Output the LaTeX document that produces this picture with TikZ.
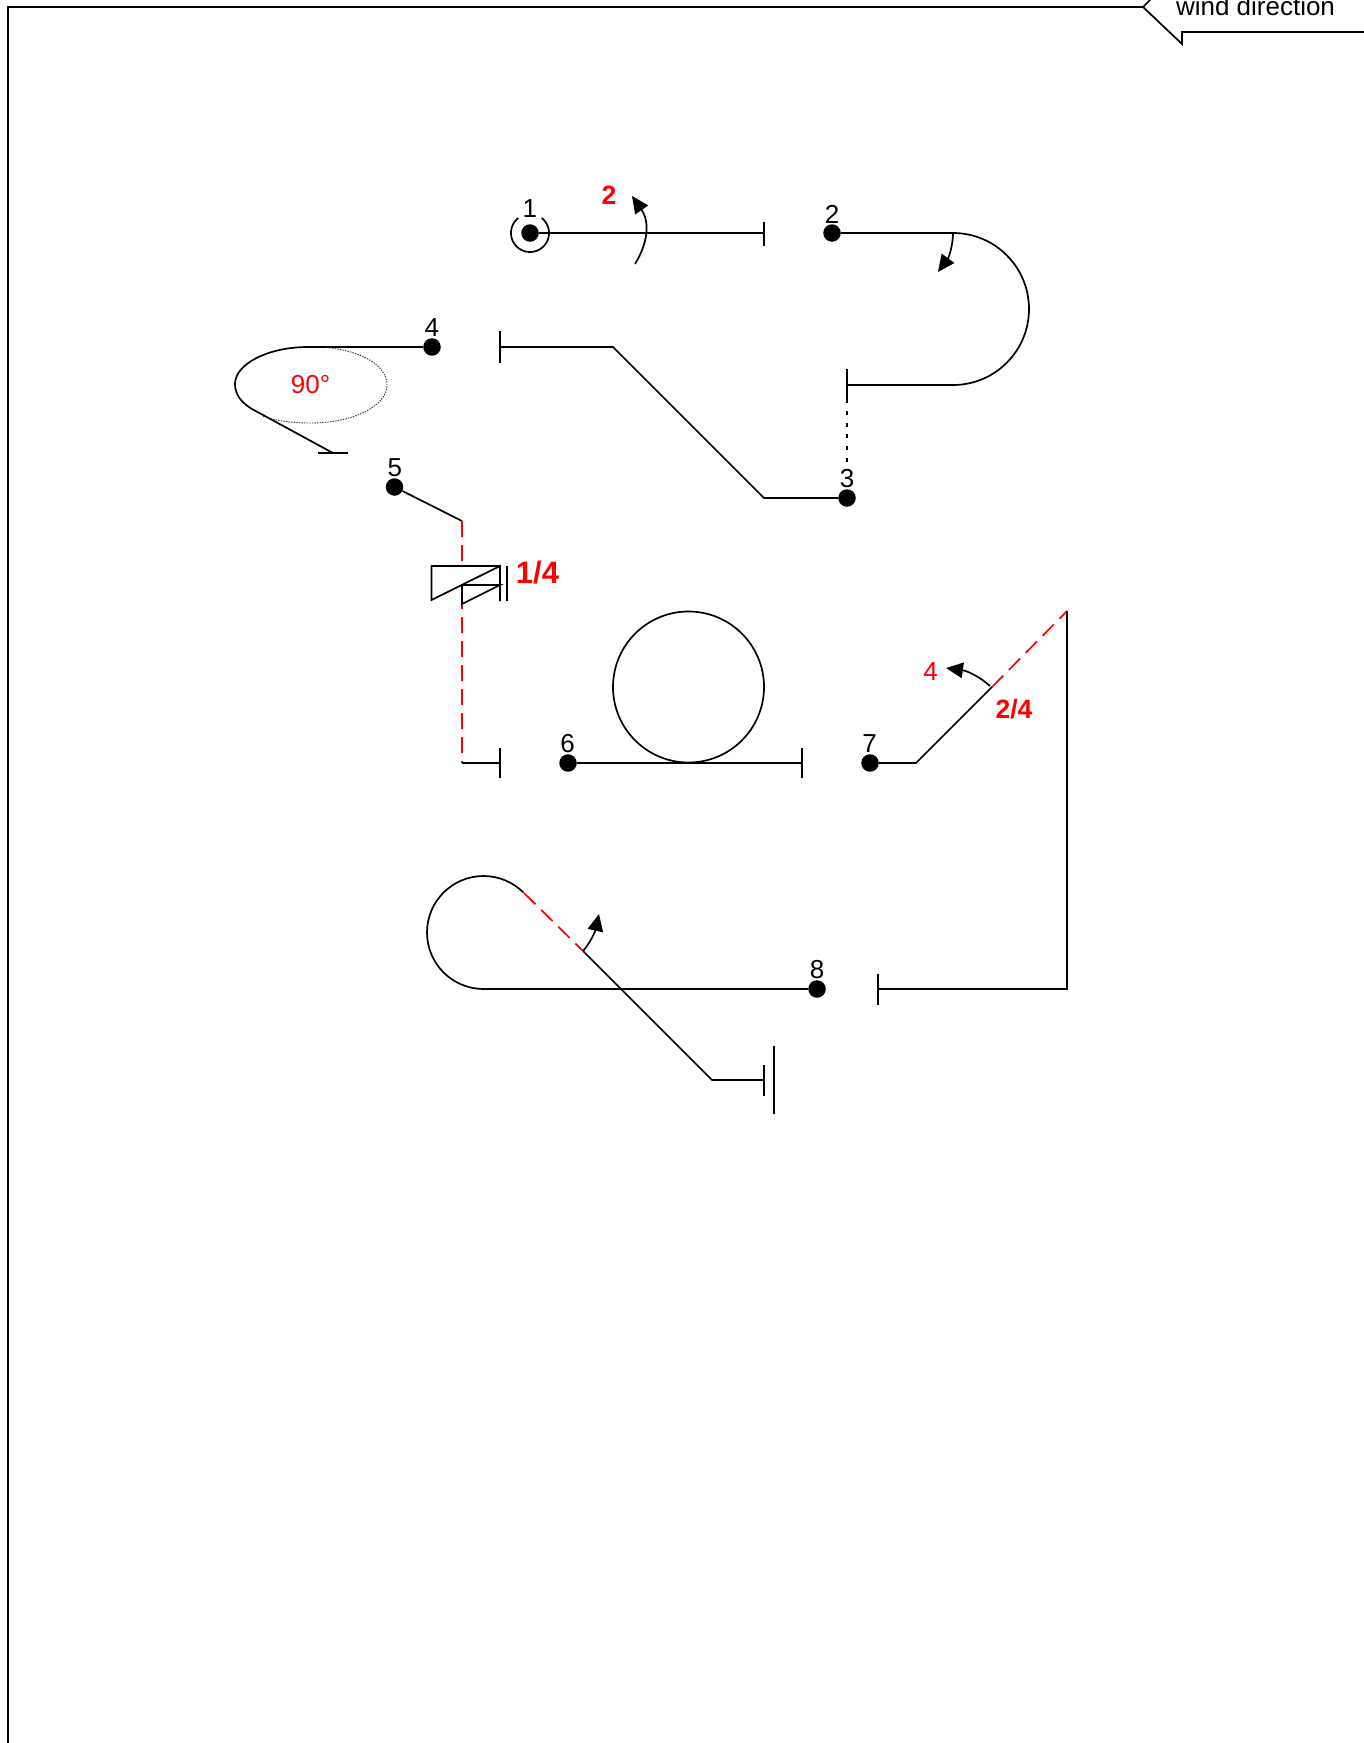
\documentclass[tikz,border=0pt]{standalone}
\usepackage{fontspec}
\setmainfont{Liberation Sans}
\usetikzlibrary{arrows.meta}
\definecolor{redlabel}{RGB}{255,0,0}
\tikzset{
  ln/.style={draw=black,line width=1.7pt,line join=miter},
  pt/.style={circle,fill=black,inner sep=0pt,minimum size=17.5pt},
  reddash/.style={draw=redlabel,line width=1.7pt,dash pattern=on 16pt off 8pt},
  dots/.style={draw=black,line width=1.7pt,dash pattern=on 4pt off 7.7pt},
  fine/.style={draw=black!80,line width=0.9pt,dash pattern=on 1.4pt off 1.2pt},
  turn/.style={draw=black,line width=1.7pt,-{Triangle[length=17pt,width=15.5pt]}},
  num/.style={inner sep=0pt,font=\fontsize{26}{30}\selectfont},
  rednum/.style={num,text=redlabel},
  redbold/.style={num,text=redlabel,font=\fontsize{26.5}{30}\selectfont\bfseries},
  redbig/.style={num,text=redlabel,font=\fontsize{31}{36}\selectfont\bfseries}
}
\begin{document}
\begin{tikzpicture}[x=1pt,y=-1pt]
\useasboundingbox (0,0) rectangle (1364,1743);
\clip (0,0) rectangle (1364,1743);
% frame and wind arrow
\coordinate (fBL) at (8,1743);
\coordinate (fTL) at (8,7);
\coordinate (fTip) at (1143,7);
\coordinate (fUp) at (1152,-2);
\coordinate (fA) at (1182,44);
\coordinate (fB) at (1182,32);
\coordinate (fR) at (1364,32);
\draw[ln] (fBL) -- (fTL) -- (fTip) -- (fUp);
\draw[ln] (fTip) -- (fA) -- (fB) -- (fR);
\node[num,anchor=base] (wind) at (1255.5,15) {wind direction};
% dots
\node[pt] (p1) at (530,233) {};
\node[pt] (p2) at (832,233) {};
\node[pt] (p3) at (847,498) {};
\node[pt] (p4) at (432,347) {};
\node[pt] (p5) at (394.5,487) {};
\node[pt] (p6) at (568,763) {};
\node[pt] (p7) at (870,763) {};
\node[pt] (p8) at (817,989) {};
% numbers
\node[num] (n1) at (529.8,209) {1};
\node[num] (n2) at (832,214) {2};
\node[num] (n3) at (847,478.8) {3};
\node[num] (n4) at (431.8,327.8) {4};
\node[num] (n5) at (394.8,467.5) {5};
\node[num] (n6) at (567.5,743.5) {6};
\node[num] (n7) at (869.5,743.8) {7};
\node[num] (n8) at (817,969.5) {8};
% 1 - 2
\coordinate (e1) at (764,233);
\coordinate (e1a) at (764,222);
\coordinate (e1b) at (764,246);
\draw[ln] (p1) -- (e1);
\draw[ln] (e1a) -- (e1b);
\draw[ln] plot[domain=128:412,samples=70,smooth] ({530+19*cos(\x)},{233-19*sin(\x)});
\coordinate (t1s) at (635,264);
\coordinate (t1e) at (632,196);
\draw[turn] (t1s) .. controls (648,243) and (650,222) .. (t1e);
\node[redbold] (l2) at (609,195) {2};
% 2 - 3
\coordinate (c2) at (953,233);
\coordinate (e2) at (847,385);
\coordinate (e2a) at (847,369);
\coordinate (e2b) at (847,403);
\coordinate (d3) at (847,411);
\coordinate (d3e) at (847,465);
\draw[ln] (p2) -- (c2) arc[start angle=90,end angle=-90,radius=76pt] -- (e2);
\draw[ln] (e2a) -- (e2b);
\draw[dots] (d3) -- (d3e);
\coordinate (t2e) at (938,272);
\draw[turn] (c2) .. controls (953,245) and (949,257) .. (t2e);
% 3 - 4
\coordinate (w3a) at (764,498);
\coordinate (w3b) at (613,347);
\coordinate (e3) at (500,347);
\coordinate (e3a) at (500,331);
\coordinate (e3b) at (500,363);
\draw[ln] (p3) -- (w3a) -- (w3b) -- (e3);
\draw[ln] (e3a) -- (e3b);
% 4 - 5
\coordinate (w4a) at (308,347);
\coordinate (w4b) at (235,384);
\coordinate (w4c) at (252,409);
\coordinate (e4) at (333,453);
\coordinate (e4a) at (318,453);
\coordinate (e4b) at (348,453);
\draw[ln] (p4) -- (w4a) .. controls (268,347) and (235,364) .. (w4b) .. controls (235,395) and (242,403) .. (w4c) -- (e4);
\draw[ln] (e4a) -- (e4b);
\draw[fine] (327,347.5) .. controls (361,351) and (387,365) .. (387,385) .. controls (387,406) and (353,423) .. (311,423) .. controls (293,423) and (276,421) .. (262,416);
\node[rednum] (deg) at (310.5,384.5) {90°};
% 5 - 6
\coordinate (w5a) at (462,521);
\coordinate (w5b) at (462,763);
\coordinate (e5) at (500,763);
\coordinate (e5a) at (500,748);
\coordinate (e5b) at (500,778);
\draw[ln] (p5) -- (w5a);
\draw[reddash] (w5a) -- (w5b);
\draw[ln] (w5b) -- (e5);
\draw[ln] (e5a) -- (e5b);
% symbol on the leg
\coordinate (s1) at (431.5,566);
\coordinate (s2) at (500,566);
\coordinate (s3) at (431.5,600);
\coordinate (s4) at (500,601);
\coordinate (s5) at (462,585);
\coordinate (s6) at (500,585);
\coordinate (s7) at (462,604);
\coordinate (s8) at (507,566);
\coordinate (s9) at (507,601);
\fill[white] (s3) -- (s1) -- (s2) -- cycle;
\fill[white] (s5) -- (s6) -- (s7) -- cycle;
\draw[ln] (s2) -- (s1) -- (s3) -- (s2) -- (s4);
\draw[ln] (s6) -- (s5) -- (s7) -- cycle;
\draw[ln] (s8) -- (s9);
\node[redbig] (l14) at (537.5,572.5) {1/4};
% 6 - 7
\coordinate (e6) at (802,763);
\coordinate (e6a) at (802,748);
\coordinate (e6b) at (802,778);
\draw[ln] (p6) -- (e6);
\draw[ln] (e6a) -- (e6b);
\draw[ln] (688.5,687) circle[radius=75.5pt];
% 7 - 8
\coordinate (w7a) at (916,763);
\coordinate (w7b) at (992,687);
\coordinate (w7c) at (1067,611);
\coordinate (w7d) at (1067,989);
\coordinate (e7) at (878,989);
\coordinate (e7a) at (878,974);
\coordinate (e7b) at (878,1005);
\draw[ln] (p7) -- (w7a) -- (w7b);
\draw[reddash] (w7b) -- (w7c);
\draw[ln] (w7c) -- (w7d) -- (e7);
\draw[ln] (e7a) -- (e7b);
\coordinate (t7s) at (990,686);
\coordinate (t7e) at (946,668);
\draw[turn] (t7s) .. controls (980,677) and (968,671) .. (t7e);
\node[rednum] (l4) at (930.5,672) {4};
\node[redbold] (l24) at (1014,709) {2/4};
% 8 - end
\coordinate (w8a) at (483.5,989);
\coordinate (w8b) at (524,893);
\coordinate (w8c) at (583,951);
\coordinate (w8d) at (712,1080);
\coordinate (e8) at (764,1080);
\coordinate (e8a) at (764,1065);
\coordinate (e8b) at (764,1096);
\coordinate (e8c) at (774,1046);
\coordinate (e8d) at (774,1114);
\draw[ln] (p8) -- (w8a) arc[start angle=-90,end angle=-315,radius=56.5pt];
\draw[reddash] (w8b) -- (w8c);
\draw[ln] (w8c) -- (w8d) -- (e8);
\draw[ln] (e8a) -- (e8b);
\draw[ln] (e8c) -- (e8d);
\coordinate (t8e) at (599,914);
\draw[turn] (w8c) .. controls (590,943) and (595,932) .. (t8e);
\end{tikzpicture}
\end{document}
